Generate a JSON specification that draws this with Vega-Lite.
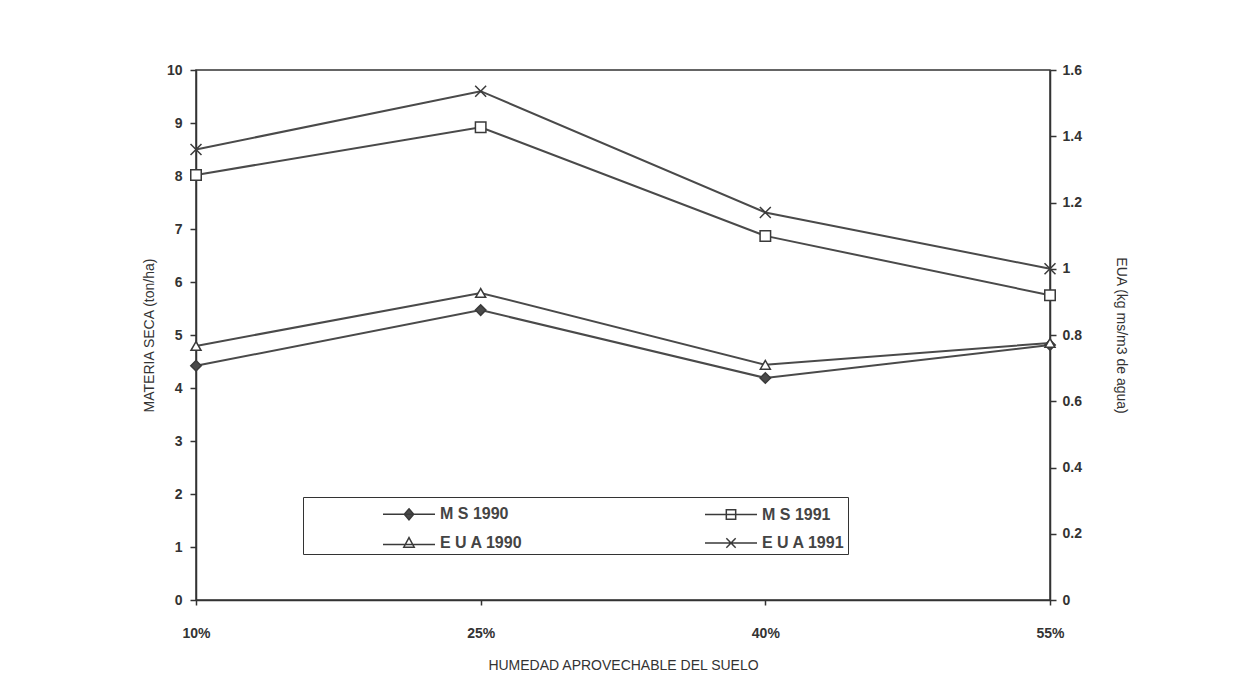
{
  "$schema": "https://vega.github.io/schema/vega-lite/v6.json",
  "width": 854,
  "height": 530,
  "autosize": {"type": "none"},
  "padding": {"left": 196, "top": 70, "right": 183, "bottom": 97},
  "background": "white",
  "config": {
    "font": "Liberation Sans",
    "view": {"stroke": "#333", "strokeWidth": 1.5},
    "axis": {
      "domainColor": "#333", "domainWidth": 1.5, "tickColor": "#333", "tickWidth": 1.5, "tickSize": 6,
      "grid": false, "labelFont": "Liberation Sans", "labelFontSize": 14, "labelFontWeight": "bold",
      "labelColor": "#333", "titleFont": "Liberation Sans", "titleFontSize": 14, "titleFontWeight": "normal",
      "titleColor": "#333"
    },
    "legend": {
      "title": null, "orient": "none", "legendX": 107, "legendY": 427, "columns": 2, "direction": "horizontal",
      "columnPadding": 105, "rowPadding": 6, "padding": 3, "strokeColor": "#333", "fillColor": "white",
      "labelFont": "Liberation Sans", "labelFontSize": 16, "labelFontWeight": "bold", "labelColor": "#444", "labelOffset": 17,
      "labelLimit": 400,
      "symbolOffset": 89, "symbolSize": 676, "symbolStrokeWidth": 1.5, "symbolOpacity": 1
    }
  },
  "data": {
    "values": [
      {"humedad": "10%", "serie": "M S 1990", "grupo": "MS", "valor": 4.42},
      {"humedad": "25%", "serie": "M S 1990", "grupo": "MS", "valor": 5.47},
      {"humedad": "40%", "serie": "M S 1990", "grupo": "MS", "valor": 4.19},
      {"humedad": "55%", "serie": "M S 1990", "grupo": "MS", "valor": 4.81},
      {"humedad": "10%", "serie": "M S 1991", "grupo": "MS", "valor": 8.02},
      {"humedad": "25%", "serie": "M S 1991", "grupo": "MS", "valor": 8.92},
      {"humedad": "40%", "serie": "M S 1991", "grupo": "MS", "valor": 6.87},
      {"humedad": "55%", "serie": "M S 1991", "grupo": "MS", "valor": 5.75},
      {"humedad": "10%", "serie": "E U A 1990", "grupo": "EUA", "valor": 0.767},
      {"humedad": "25%", "serie": "E U A 1990", "grupo": "EUA", "valor": 0.927},
      {"humedad": "40%", "serie": "E U A 1990", "grupo": "EUA", "valor": 0.71},
      {"humedad": "55%", "serie": "E U A 1990", "grupo": "EUA", "valor": 0.776},
      {"humedad": "10%", "serie": "E U A 1991", "grupo": "EUA", "valor": 1.36},
      {"humedad": "25%", "serie": "E U A 1991", "grupo": "EUA", "valor": 1.536},
      {"humedad": "40%", "serie": "E U A 1991", "grupo": "EUA", "valor": 1.17},
      {"humedad": "55%", "serie": "E U A 1991", "grupo": "EUA", "valor": 1.0}
    ]
  },
  "encoding": {
    "x": {
      "field": "humedad", "type": "ordinal", "sort": ["10%", "25%", "40%", "55%"],
      "scale": {"type": "point", "padding": 0},
      "axis": {"title": "HUMEDAD APROVECHABLE DEL SUELO", "labelAngle": 0, "labelPadding": 21, "titlePadding": 18, "tickSize": 5}
    }
  },
  "layer": [
    {
      "transform": [{"filter": "datum.grupo === 'MS'"}],
      "encoding": {
        "y": {
          "field": "valor", "type": "quantitative",
          "scale": {"domain": [0, 10], "nice": false},
          "axis": {"orient": "left", "title": "MATERIA SECA (ton/ha)", "values": [0,1,2,3,4,5,6,7,8,9,10], "labelPadding": 8, "titlePadding": 10}
        }
      },
      "layer": [
        {
          "mark": {"type": "line", "color": "#4a4a4a", "strokeWidth": 2},
          "encoding": {"detail": {"field": "serie"}}
        },
        {
          "transform": [{"filter": "datum.serie === 'M S 1990'"}],
          "mark": {"type": "point", "shape": "diamond", "filled": true, "fill": "#4a4a4a", "stroke": "#3a3a3a", "strokeWidth": 1.5, "size": 110, "opacity": 1}
        },
        {
          "transform": [{"filter": "datum.serie === 'M S 1991'"}],
          "mark": {"type": "point", "shape": "square", "filled": true, "fill": "white", "stroke": "#3a3a3a", "strokeWidth": 1.5, "size": 110, "opacity": 1}
        }
      ]
    },
    {
      "transform": [{"filter": "datum.grupo === 'EUA'"}],
      "encoding": {
        "y": {
          "field": "valor", "type": "quantitative",
          "scale": {"domain": [0, 1.6], "nice": false},
          "axis": {"orient": "right", "title": "EUA (kg ms/m3 de agua)", "values": [0,0.2,0.4,0.6,0.8,1,1.2,1.4,1.6], "format": "~g", "labelPadding": 6, "titlePadding": 32}
        }
      },
      "layer": [
        {
          "mark": {"type": "line", "color": "#4a4a4a", "strokeWidth": 2},
          "encoding": {"detail": {"field": "serie"}}
        },
        {
          "transform": [{"filter": "datum.serie === 'E U A 1990'"}],
          "mark": {"type": "point", "shape": "triangle-up", "filled": true, "fill": "white", "stroke": "#3a3a3a", "strokeWidth": 1.5, "size": 100, "opacity": 1}
        },
        {
          "transform": [{"filter": "datum.serie === 'E U A 1991'"}],
          "mark": {"type": "point", "shape": "M-1,-1L1,1M-1,1L1,-1", "filled": true, "fill": "white", "stroke": "#3a3a3a", "strokeWidth": 1.5, "size": 120, "opacity": 1}
        }
      ]
    },
    {
      "mark": {"type": "point", "filled": true, "stroke": "#3a3a3a", "strokeWidth": 1.5, "opacity": 0},
      "encoding": {
        "y": {"value": 0},
        "shape": {
          "field": "serie", "type": "nominal",
          "scale": {
            "domain": ["M S 1990", "M S 1991", "E U A 1990", "E U A 1991"],
            "range": [
              "M-2,0L2,0M0,-0.42L0.36,0L0,0.42L-0.36,0Z",
              "M-2,0L2,0M-0.36,-0.36L0.36,-0.36L0.36,0.36L-0.36,0.36Z",
              "M-2,0.12L2,0.12M0,-0.42L0.4,0.32L-0.4,0.32Z",
              "M-2,0L2,0M-0.36,-0.36L0.36,0.36M-0.36,0.36L0.36,-0.36"
            ]
          }
        },
        "fill": {
          "field": "serie", "type": "nominal",
          "scale": {"domain": ["M S 1990", "M S 1991", "E U A 1990", "E U A 1991"], "range": ["#4a4a4a", "white", "white", "white"]}
        }
      }
    }
  ],
  "resolve": {"scale": {"y": "independent"}}
}
